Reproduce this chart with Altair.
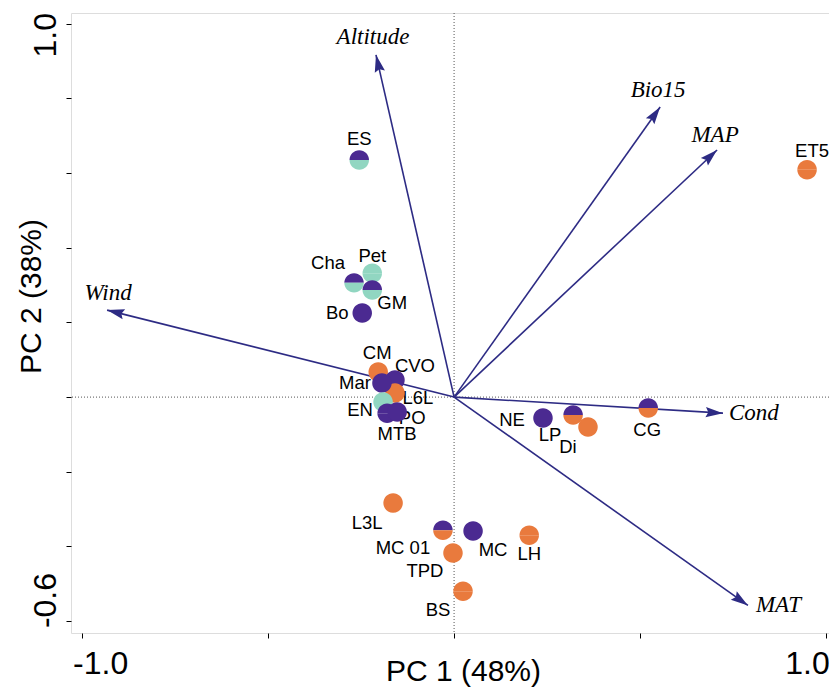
import altair as alt
import pandas as pd

# ---- data ----
site = ["ES", "Cha", "Pet", "GM", "Bo", "CM", "CVO", "L6L", "Mar", "EN", "MTB", "PO",
        "NE", "LP", "Di", "CG", "L3L", "MC 01", "MC", "LH", "TPD", "BS", "ET5"]
pc1 = [-0.255, -0.269, -0.220, -0.220, -0.247, -0.204, -0.159, -0.159, -0.194, -0.191, -0.180, -0.153,
       0.239, 0.320, 0.360, 0.522, -0.164, -0.030, 0.051, 0.202, -0.003, 0.024, 0.949]
pc2 = [0.635, 0.306, 0.332, 0.287, 0.225, 0.067, 0.046, 0.011, 0.038, -0.013, -0.043, -0.040,
       -0.056, -0.048, -0.080, -0.029, -0.284, -0.357, -0.359, -0.370, -0.418, -0.520, 0.609]
# group colour of the upper / lower half of each symbol
top_group = ["P", "P", "T", "P", "P", "O", "P", "O", "P", "T", "P", "P",
             "P", "P", "O", "P", "O", "P", "P", "O", "O", "O", "O"]
bottom_group = ["T", "T", "T", "T", "P", "O", "P", "O", "P", "T", "P", "P",
                "P", "O", "O", "O", "O", "O", "P", "O", "O", "O", "O"]
# label offsets (pixels) relative to the symbol
label_dx = [0, -26, 0, 20, -25, -1, 20, 23, -27, -23, 10, 15,
            -31, -23, -20, -1, -26, -40, 20, 0, -28, -25, 5]
label_dy = [-21, -20, -17, 13, 0, -19, -14, 5, 0, 8, 21, 6,
            2, 20, 20, 22, 20, 18, 19, 19, 18, 19, -19]

var_name = ["Altitude", "Bio15", "MAP", "Wind", "Cond", "MAT"]
var_pc1 = [-0.210, 0.554, 0.707, -0.933, 0.723, 0.790]
var_pc2 = [0.917, 0.777, 0.662, 0.233, -0.043, -0.558]
var_align = ["center", "center", "center", "center", "left", "left"]
var_dx = [-3, -2, -2, 1, 6, 8]
var_dy = [-18, -17, -15, -17, 0, 0]

x_ticks = [-1.0, -0.5, 0.0, 0.5, 1.0]
y_ticks = [-0.6, -0.4, -0.2, 0.0, 0.2, 0.4, 0.6, 0.8, 1.0]

# ---- styling ----
COLORS = {"P": "#4b2a91", "T": "#91d6c1", "O": "#e97a3d"}
NAVY = "#2d2b84"
TOP_PATH = "M-1,0A1,1,0,0,1,1,0Z"
BOTTOM_PATH = "M-1,0A1,1,0,0,0,1,0Z"
HEAD_PATH = "M0,0L-0.3,1L0,0.85L0.3,1Z"
SANS = "Liberation Sans"
SERIF = "Liberation Serif"

sites = pd.DataFrame({"site": site, "x": pc1, "y": pc2})

rows = []
for s, a, b, t, bt in zip(site, pc1, pc2, top_group, bottom_group):
    rows.append({"site": s, "x": a, "y": b, "col": COLORS[t], "shape": TOP_PATH})
    rows.append({"site": s, "x": a, "y": b, "col": COLORS[bt], "shape": BOTTOM_PATH})
halves = pd.DataFrame(rows)

arrows = pd.DataFrame({"var": var_name, "x": var_pc1, "y": var_pc2})

xscale = alt.Scale(domain=[-1.030, 1.008], nice=False, zero=False)
yscale = alt.Scale(domain=[-0.632, 1.029], nice=False, zero=False)

xaxis = alt.Axis(
    values=x_ticks, title="PC 1 (48%)", grid=False, domain=False,
    labelExpr="datum.value == -1 ? '-1.0' : (datum.value == 1 ? '1.0' : '')",
    labelOffset={"condition": {"test": "datum.value < 0", "value": 18}, "value": -19},
    labelFontSize=32, labelFont=SANS, labelColor="black", labelPadding=10,
    tickSize=5, tickColor="black", tickWidth=1,
    titleFont=SANS, titleFontSize=30, titleFontWeight="normal", titleColor="black",
    titleX=392, titleY=47, titleBaseline="alphabetic", titleAlign="center",
)
yaxis = alt.Axis(
    values=y_ticks, title="PC 2 (38%)", grid=False, domain=False,
    labelExpr="datum.value > 0.99 ? '1.0' : (datum.value < -0.59 ? '-0.6' : '')",
    labelAngle=270,
    labelOffset={"condition": {"test": "datum.value > 0.5", "value": 11}, "value": -21},
    labelFontSize=32, labelFont=SANS, labelColor="black", labelPadding=4,
    tickSize=5, tickColor="black", tickWidth=1,
    titleFont=SANS, titleFontSize=30, titleFontWeight="normal", titleColor="black",
    titleX=-31, titleY=283, titleBaseline="alphabetic", titleAlign="center", titleAngle=270,
)

X = alt.X("x:Q", scale=xscale, axis=xaxis)
Y = alt.Y("y:Q", scale=yscale, axis=yaxis)

zero = pd.DataFrame({"x": [0.0], "y": [0.0]})
vline = alt.Chart(zero).mark_rule(color="#555555", strokeDash=[1, 2], strokeWidth=1).encode(x=X)
hline = alt.Chart(zero).mark_rule(color="#555555", strokeDash=[1, 2], strokeWidth=1).encode(y=Y)

arrow_lines = alt.Chart(arrows).transform_calculate(x0="0", y0="0").mark_rule(
    color=NAVY, strokeWidth=1.6
).encode(
    x=alt.X("x0:Q", scale=xscale, axis=xaxis),
    y=alt.Y("y0:Q", scale=yscale, axis=yaxis),
    x2="x:Q", y2="y:Q",
)

arrow_heads = alt.Chart(arrows).transform_calculate(
    ang="(atan2(datum.x, datum.y) * 180 / PI + 360) % 360"
).mark_point(
    shape=HEAD_PATH, size=1200, filled=True, color=NAVY, opacity=1, strokeWidth=0
).encode(x=X, y=Y, angle=alt.Angle("ang:Q", scale=None))

layers = [vline, hline, arrow_lines, arrow_heads]

for s, dx, dy in zip(site, label_dx, label_dy):
    layers.append(
        alt.Chart(sites).transform_filter(alt.datum.site == s).mark_text(
            dx=dx, dy=dy, font=SANS, fontSize=18.5, color="black",
            align="center", baseline="middle"
        ).encode(x=X, y=Y, text="site:N")
    )

for v, al, dx, dy in zip(var_name, var_align, var_dx, var_dy):
    layers.append(
        alt.Chart(arrows).transform_filter(alt.datum["var"] == v).mark_text(
            dx=dx, dy=dy, font=SERIF, fontStyle="italic", fontSize=23, color="black",
            align=al, baseline="middle"
        ).encode(x=X, y=Y, text="var:N")
    )

points = alt.Chart(halves).mark_point(
    filled=True, size=380, opacity=1, strokeWidth=0
).encode(
    x=X, y=Y,
    color=alt.Color("col:N", scale=None),
    shape=alt.Shape("shape:N", scale=None),
)
layers.append(points)

chart = alt.layer(*layers).properties(
    width=758, height=620,
    padding={"left": 63, "top": 5, "right": 0, "bottom": 58},
    autosize=alt.AutoSizeParams(type="none"),
).configure_view(stroke="black", strokeWidth=1.5).configure(background="white")

chart.save("out.html", embed_options={"renderer": "svg", "actions": False})
